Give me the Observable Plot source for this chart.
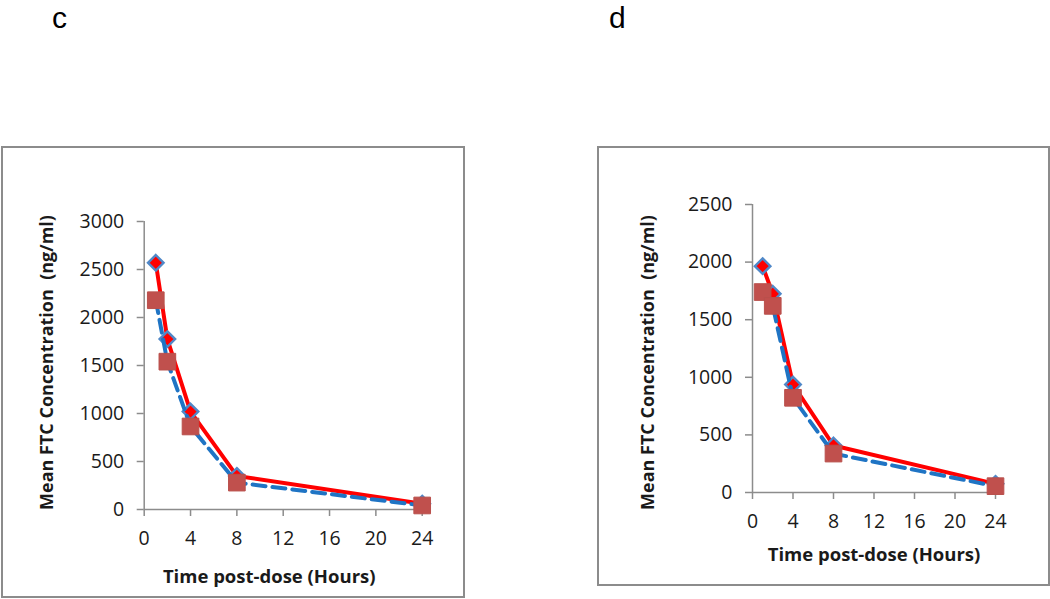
<!DOCTYPE html>
<html>
<head>
<meta charset="utf-8">
<script src="https://cdn.jsdelivr.net/npm/d3@7"></script>
<script src="https://cdn.jsdelivr.net/npm/@observablehq/plot@0.6"></script>
<style>
  html, body { margin: 0; padding: 0; background: #fff; }
  #page { position: relative; width: 1050px; height: 599px; overflow: hidden; font-family: "Open Sans", sans-serif; }
  .frame { position: absolute; border: 2px solid #8c8c8c; box-sizing: border-box; }
  .tag { position: absolute; font-family: "Liberation Sans", Arial, sans-serif; font-size: 30px; color: #000; line-height: 1; }
  .panel { position: absolute; }
</style>
</head>
<body>
<div id="page">
  <div class="frame" style="left:1px; top:146px; width:464px; height:452px;"></div>
  <div class="frame" style="left:597px; top:146px; width:453px; height:440px;"></div>
  <div class="tag" style="left:52px; top:3px;">c</div>
  <div class="tag" style="left:609px; top:3px;">d</div>
  <div class="panel" id="pc" style="left:0px; top:140px;"></div>
  <div class="panel" id="pd" style="left:590px; top:140px;"></div>
</div>
<script>
// ---- data ----
const hours = [1, 2, 4, 8, 24];
const xTicks = [0, 4, 8, 12, 16, 20, 24];
const cTicksY = [0, 500, 1000, 1500, 2000, 2500, 3000];
const dTicksY = [0, 500, 1000, 1500, 2000, 2500];
const cSolid = [2570, 1775, 1020, 350, 60];   // red solid, diamonds
const cDashed = [2180, 1540, 865, 280, 42];   // blue dashed, squares
const dSolid = [1965, 1725, 937, 408, 75];
const dDashed = [1740, 1620, 822, 338, 55];
const xTitle = "Time post-dose (Hours)";
const yTitle = "Mean FTC Concentration  (ng/ml)";

const AXIS = "#8c8c8c";
const TXT = "#1a1a1a";

function makePanel(cfg) {
  const solid = hours.map((h, i) => ({t: h, v: cfg.solid[i]}));
  const dashed = hours.map((h, i) => ({t: h, v: cfg.dashed[i]}));
  return Plot.plot({
    width: cfg.width,
    height: cfg.height,
    marginLeft: cfg.ml, marginRight: cfg.mr, marginTop: cfg.mt, marginBottom: cfg.mb,
    style: {background: "transparent", fontFamily: "Open Sans, sans-serif", fontSize: "19px", overflow: "visible"},
    x: {domain: [0, 24]},
    y: {domain: [0, cfg.ymax]},
    marks: [
      Plot.ruleX([0], {y1: 0, y2: cfg.ymax, stroke: AXIS, strokeWidth: 1.5}),
      Plot.ruleY([0], {x1: 0, x2: 24, stroke: AXIS, strokeWidth: 1.5}),
      Plot.axisY({ticks: cfg.yTicks, tickSize: 7, text: null, stroke: AXIS, strokeWidth: 1.5, label: null}),
      Plot.axisY({ticks: cfg.yTicks, tickSize: 0, tickPadding: 20, fill: TXT, fontSize: 19.5, label: null, tickFormat: d => String(d)}),
      Plot.axisX({ticks: xTicks, tickSize: 7, text: null, stroke: AXIS, strokeWidth: 1.5, label: null}),
      Plot.axisX({ticks: xTicks, tickSize: 0, tickPadding: 22, fill: TXT, fontSize: 19.5, label: null, tickFormat: d => String(d)}),
      Plot.line(solid, {x: "t", y: "v", stroke: "#ff0000", strokeWidth: 4}),
      Plot.dot(solid, {x: "t", y: "v", symbol: "diamond2", r: 7, fill: "#ff0000", stroke: "#5088c8", strokeWidth: 2.4}),
      Plot.line(dashed, {x: "t", y: "v", stroke: "#1f74c4", strokeWidth: 4, strokeDasharray: "13,7"}),
      Plot.dot(dashed, {x: "t", y: "v", symbol: "square", r: 9.4, fill: "#c0504d", stroke: "#b9504c", strokeWidth: 1}),
      Plot.text([xTitle], {frameAnchor: "bottom", textAnchor: "middle", lineAnchor: "middle", dx: cfg.xdx, dy: cfg.xdy, fontWeight: "bold", fontSize: 18.5, fill: TXT}),
      Plot.text([yTitle], {frameAnchor: "left", textAnchor: "middle", lineAnchor: "middle", rotate: -90, dx: cfg.ydx, dy: cfg.ydy, fontWeight: "bold", fontSize: 18, fill: TXT})
    ]
  });
}

document.getElementById("pc").appendChild(makePanel({
  width: 470, height: 459, ml: 143.7, mr: 48.3, mt: 81, mb: 90,
  ymax: 3000, yTicks: cTicksY, solid: cSolid, dashed: cDashed,
  xdx: -14, xdy: 68, ydx: -97, ydy: -3
}));
document.getElementById("pd").appendChild(makePanel({
  width: 460, height: 459, ml: 162, mr: 55, mt: 64, mb: 107,
  ymax: 2500, yTicks: dTicksY, solid: dSolid, dashed: dDashed,
  xdx: 0, xdy: 63, ydx: -104, ydy: 14
}));
</script>
</body>
</html>
